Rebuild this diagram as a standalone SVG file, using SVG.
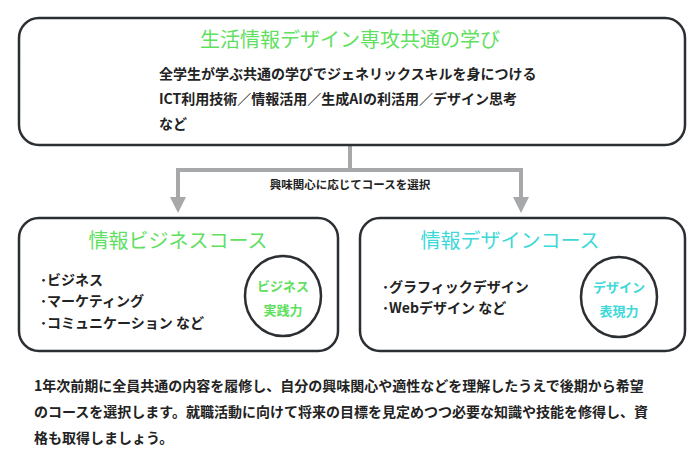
<svg xmlns="http://www.w3.org/2000/svg" width="700" height="465" viewBox="0 0 700 465">
<style>
.box{fill:#fff;stroke:#2b2f33;stroke-width:2.5}
.t{font-family:"Noto Sans CJK JP","Noto Sans",sans-serif;}
.h{font-size:20px;text-anchor:middle}
.b{font-size:14px;font-weight:bold;fill:#222}
.c{font-size:13px;font-weight:bold;text-anchor:middle}
.con{fill:none;stroke:#a6a8a9;stroke-width:4}
</style>
<defs><marker id="ar" viewBox="0 0 10 10" refX="5" refY="5" markerWidth="4" markerHeight="4" orient="auto" markerUnits="strokeWidth"><path d="M0 0L10 5L0 10z" fill="#a6a8a9"/></marker></defs>
<rect width="700" height="465" fill="#fff"/>
<g id="connectors">
<path class="con" d="M350 146V170M176 170H523"/>
<path class="con" d="M178 170V205" marker-end="url(#ar)"/>
<path class="con" d="M521 170V205" marker-end="url(#ar)"/>
<text class="t" x="350" y="189" font-size="11.5" font-weight="bold" fill="#222" text-anchor="middle">興味関心に応じてコースを選択</text>
</g>
<g id="common">
<rect class="box" x="19" y="18" width="666" height="127" rx="20"/>
<text class="t h" x="350" y="47" fill="#5fe05f">生活情報デザイン専攻共通の学び</text>
<text class="t b" x="159" y="79">全学生が学ぶ共通の学びでジェネリックスキルを身につける</text>
<text class="t b" x="159" y="104">ICT利用技術／情報活用／生成AIの利活用／デザイン思考</text>
<text class="t b" x="159" y="129">など</text>
</g>
<g id="business">
<rect class="box" x="19" y="218" width="319" height="133" rx="20"/>
<text class="t h" x="178" y="248" fill="#5fe05f">情報ビジネスコース</text>
<text class="t b" x="40" y="285">･ビジネス</text>
<text class="t b" x="40" y="306">･マーケティング</text>
<text class="t b" x="40" y="328">･コミュニケーション など</text>
<ellipse cx="283" cy="296" rx="38" ry="40" fill="#fff" stroke="#2b2f33" stroke-width="2.5"/>
<text class="t c" x="283" y="291" fill="#5fe05f">ビジネス</text>
<text class="t c" x="283" y="315" fill="#5fe05f">実践力</text>
</g>
<g id="design">
<rect class="box" x="360" y="218" width="325" height="133" rx="20"/>
<text class="t h" x="510" y="248" fill="#3ed8d8">情報デザインコース</text>
<text class="t b" x="382" y="292">･グラフィックデザイン</text>
<text class="t b" x="382" y="313">･Webデザイン など</text>
<ellipse cx="619" cy="297" rx="38" ry="40" fill="#fff" stroke="#2b2f33" stroke-width="2.5"/>
<text class="t c" x="619" y="292" fill="#3ed8d8">デザイン</text>
<text class="t c" x="619" y="316" fill="#3ed8d8">表現力</text>
</g>
<g id="note">
<text class="t b" x="34" y="391">1年次前期に全員共通の内容を履修し、自分の興味関心や適性などを理解したうえで後期から希望</text>
<text class="t b" x="34" y="417">のコースを選択します。就職活動に向けて将来の目標を見定めつつ必要な知識や技能を修得し、資</text>
<text class="t b" x="34" y="443">格も取得しましょう。</text>
</g>
</svg>
